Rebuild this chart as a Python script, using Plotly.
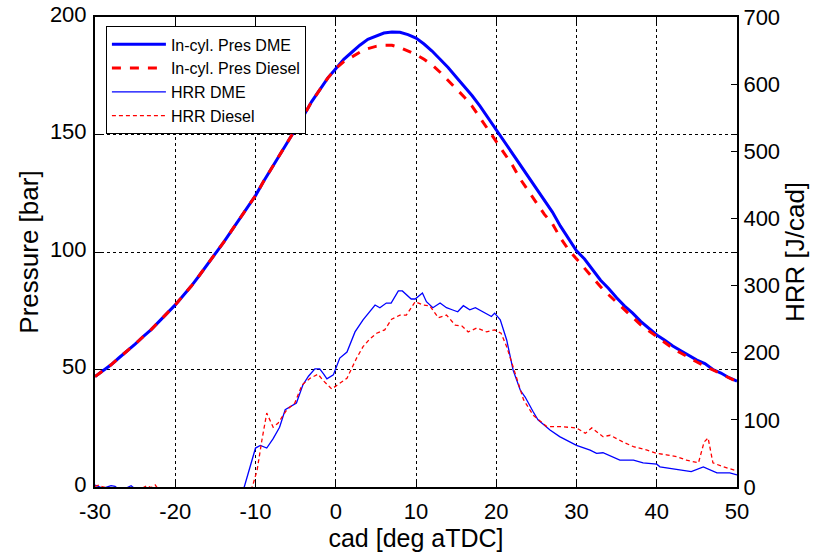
import plotly.graph_objects as go

# ---- Pressure data (bar) ----
cad_p = list(range(-30, 51))
p_dme = [47, 49.5, 52, 55, 57.8, 60.8, 64, 67, 70.5, 74,
         77.5, 81.5, 85.5, 90, 94.5, 99.2, 104, 109, 114, 119,
         124, 130, 135.5, 141, 146.5, 152, 158, 164, 169, 174,
         178, 182, 185, 188, 190.5, 192, 193.2, 193.6, 193.5, 192.5,
         191, 188.5, 185.5, 182, 178.5, 174.5, 170.5, 166.5, 162, 157,
         152.3, 147, 142, 137, 132, 127, 122, 117, 111, 105.5,
         100.5, 97, 92.5, 88, 84.5, 80.5, 77, 74, 70.5, 67.5,
         64.7, 62.5, 60, 58, 56, 54, 52.5, 50, 48.5, 46.5, 45]
p_diesel = [47, 49.5, 52, 55, 57.8, 60.8, 64, 67, 70.5, 74,
            77.5, 81.5, 85.5, 90, 94.5, 99.2, 104, 109, 114, 119,
            124, 130, 135.5, 141, 146.5, 152, 158, 164, 169, 174,
            178, 181, 183, 185, 186.5, 187.5, 188, 188, 187, 185.5,
            184, 182, 179.6, 176.5, 173, 169.5, 166, 162, 157, 151.5,
            146.5, 142, 137, 131, 126, 121, 116, 112, 106, 101,
            97, 93, 89, 85.2, 81.8, 78.5, 75.3, 72, 69, 66.5,
            64, 61.5, 59, 57, 55, 53.2, 51.5, 49.8, 48, 46.3, 44.8]

# ---- Heat release rate data (J/cad) ----
cad_hrr_dme = [-30, -29, -28, -27.5, -27, -26, -25.5, -25, -24, -22, -20, -18, -16, -14, -12, -11.4,
               -10.5, -10, -9.4, -8.6, -7.8, -7, -6.3, -5.6, -4.9, -4.1, -3.4, -2.6, -2, -1.5, -1.1,
               -0.3, 0.5, 1.4, 2.4, 3.4, 4.2, 4.9, 5.5, 6.3, 6.9, 7.8, 8.3, 9.4, 9.9, 10.8, 11.3,
               12.1, 13, 13.8, 14.5, 15.2, 15.9, 16.7, 17.4, 18.4, 19.4, 19.8, 20.5, 21.3, 22.1,
               23, 23.6, 24.6, 25.2, 26.7, 27.9, 30, 31.7, 32.5, 33.3, 35.4, 37.1, 38.3, 40, 40.4,
               42.9, 44.3, 45.8, 47.5, 49.1, 50]
hrr_dme = [3, -2, 2, 1, -4, -1, 2, -3, -6, -8, -8, -8, -8, -8, -8, 0,
           40, 58, 62, 58, 72, 89, 115, 120, 125, 152, 165, 176, 176, 168, 161,
           167, 192, 201, 231, 249, 260, 271, 267, 274, 274, 292, 292, 280, 280, 289, 276,
           267, 274, 267, 264, 261, 270, 264, 267, 260, 254, 259, 249, 219, 174,
           144, 134, 112, 100, 85, 75, 62, 55, 50, 51, 40, 40, 36, 34, 30,
           25, 23, 30, 21, 21, 18]

cad_hrr_diesel = [-30, -29.5, -29, -28, -27, -26, -25, -24, -23.5, -23, -22.5, -22, -20, -18, -16,
                  -14, -12, -10.4, -9.8, -9.2, -8.6, -7.8, -7.2, -6.1, -5.1, -4.2, -3.2, -2.2, -1.6,
                  -0.5, 0.5, 1.4, 2.6, 3.4, 4.2, 5.1, 6.1, 6.97, 8, 8.8, 9.9, 10.9, 11.7, 12.8,
                  13.8, 14.9, 15.7, 16.5, 17.6, 18.8, 19.8, 20.6, 21.3, 22.1, 23, 23.4, 24.6, 26.3,
                  27.9, 30, 31.1, 31.9, 33.3, 34.2, 35.8, 37.1, 38.8, 40, 41.2, 42.5, 43.7, 45.2,
                  45.4, 45.9, 46.4, 47, 48.3, 50]
hrr_diesel = [1, 3, 0, -2, -4, -3, -5, -1, 2, -1, 3, -5, -8, -8, -8,
              -8, -8, 0, 25, 70, 110, 89, 95, 115, 125, 152, 162, 168, 159,
              146, 155, 162, 192, 209, 220, 229, 234, 250, 256, 256, 276, 271, 270, 252,
              256, 241, 240, 231, 237, 231, 234, 229, 209, 179, 142, 130, 107, 90,
              90, 88, 80, 88, 75, 77, 67, 60, 55, 50, 48, 45, 40, 36,
              45, 67, 73, 36, 30, 24]

x_ticks = [-30, -20, -10, 0, 10, 20, 30, 40, 50]
x_ticktext = ["-30", "-20", "-10", "0", "10", "20", "30", "40", "50"]
p_ticks = [0, 50, 100, 150, 200]
hrr_ticks = [0, 100, 200, 300, 400, 500, 600, 700]

FONT = "Liberation Sans, Arial, sans-serif"

fig = go.Figure()
fig.add_trace(go.Scatter(x=cad_p, y=p_dme, name="In-cyl. Pres DME", mode="lines",
                         line=dict(color="rgb(0,0,255)", width=3)))
fig.add_trace(go.Scatter(x=cad_p, y=p_diesel, name="In-cyl. Pres Diesel", mode="lines",
                         line=dict(color="rgb(255,0,0)", width=3, dash="dash")))
fig.add_trace(go.Scatter(x=cad_hrr_dme, y=hrr_dme, name="HRR DME", mode="lines", yaxis="y2",
                         line=dict(color="rgb(0,0,255)", width=1.3)))
fig.add_trace(go.Scatter(x=cad_hrr_diesel, y=hrr_diesel, name="HRR Diesel", mode="lines", yaxis="y2",
                         line=dict(color="rgb(255,0,0)", width=1.3, dash="4px,3px")))

fig.update_layout(
    width=818, height=552,
    margin=dict(l=95, r=81, t=17, b=65),
    paper_bgcolor="white", plot_bgcolor="white",
    font=dict(family=FONT, color="black", size=22),
    showlegend=True,
    legend=dict(x=0.017, y=0.98, xanchor="left", yanchor="top",
                bgcolor="white", bordercolor="black", borderwidth=1,
                font=dict(size=16, family=FONT, color="black"),
                itemwidth=54, tracegroupgap=0),
    xaxis=dict(range=[-30, 50], tickvals=x_ticks, ticktext=x_ticktext, ticks="inside", ticklen=6,
               tickcolor="black", showline=True, linecolor="black", linewidth=2,
               mirror="ticks", showgrid=True, gridcolor="black", griddash="dot",
               gridwidth=1, zeroline=False, automargin=False, ticklabelstandoff=4,
               title=dict(text="cad [deg aTDC]", font=dict(size=25), standoff=5),
               tickfont=dict(size=22)),
    yaxis=dict(range=[0, 200], tickvals=p_ticks, ticks="inside", ticklen=6,
               tickcolor="black", showline=True, linecolor="black", linewidth=2,
               mirror="ticks", showgrid=True, gridcolor="black", griddash="dot",
               gridwidth=1, zeroline=False, automargin=False, ticklabelshift=-3,
               ticklabelstandoff=2,
               title=dict(text="Pressure [bar]", font=dict(size=26), standoff=4),
               tickfont=dict(size=22)),
    yaxis2=dict(range=[0, 700], tickvals=hrr_ticks, overlaying="y", side="right",
                ticks="inside", ticklen=6, tickcolor="black", showline=True,
                linecolor="black", linewidth=2, showgrid=False, zeroline=False,
                automargin=False,
                title=dict(text="HRR [J/cad]", font=dict(size=26), standoff=6),
                tickfont=dict(size=22)),
)

fig.write_html("out.html")
